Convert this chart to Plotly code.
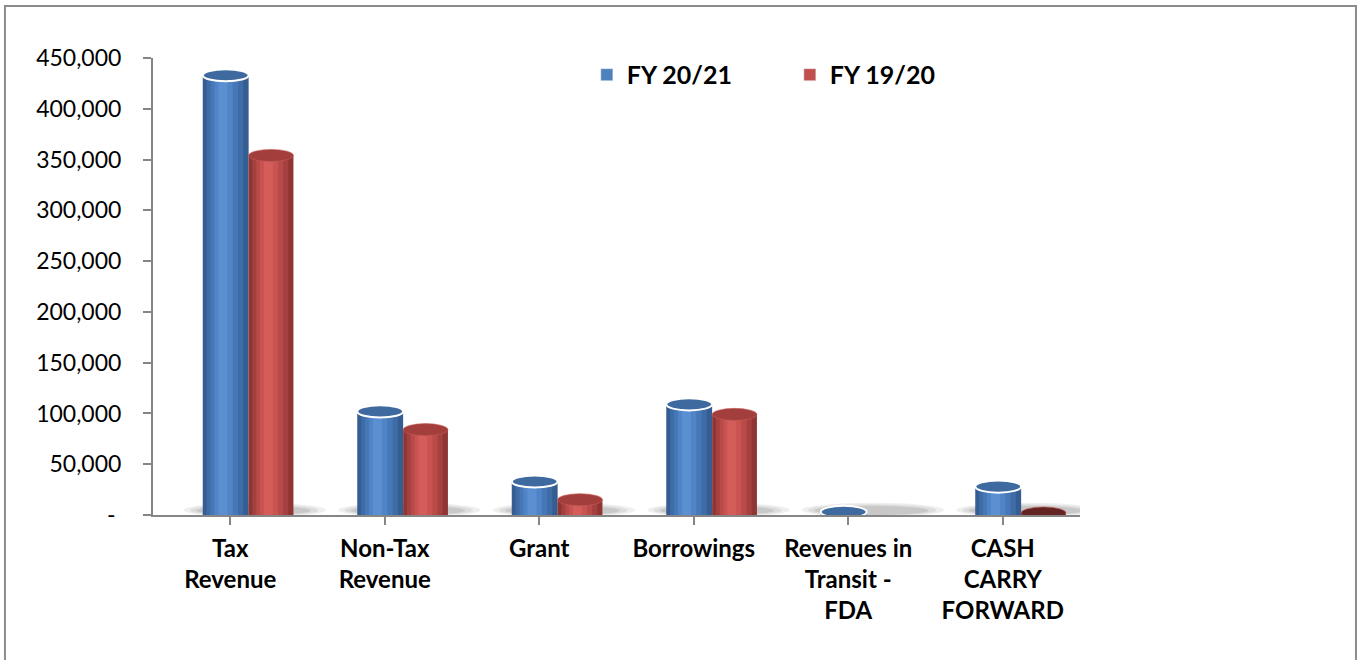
import plotly.graph_objects as go

categories = ["Tax<br>Revenue", "Non-Tax<br>Revenue", "Grant", "Borrowings",
              "Revenues in<br>Transit -<br>FDA", "CASH<br>CARRY<br>FORWARD"]
fy2021 = [433000, 102000, 33000, 109000, 3000, 28000]
fy1920 = [354000, 84000, 15000, 99000, 0, 2000]
y_ticks = [0, 50000, 100000, 150000, 200000, 250000, 300000, 350000, 400000, 450000]
y_ticktext = ["-\u00a0"] + [f"{v:,}" for v in y_ticks[1:]]

FONT = "Lato"
idx = list(range(len(categories)))

series = [
    ("FY 20/21", fy2021, -0.178, 0.297,
     ["#355d91", "#3e6ca6", "#4678b7", "#4f84c6", "#5a8fd2"], "#3e6a9f", "white"),
    ("FY 19/20", fy1920, 0.119, 0.29,
     ["#8f3533", "#a54040", "#b84a48", "#c85351", "#d45c59"], "#a23f3d", "rgba(200,90,88,0.6)"),
]

fig = go.Figure()
shapes = []

# soft floor shadows
for i in idx:
    for k, (a, b, op) in enumerate([(-0.30, 0.62, 0.12), (-0.26, 0.57, 0.15), (-0.22, 0.52, 0.2)]):
        shapes.append(dict(type="circle", xref="x", yref="y", layer="below",
                           x0=i + a, x1=i + b, y0=-2000 + k * 1000, y1=12000 - k * 1500,
                           fillcolor=f"rgba(120,120,120,{op})", line=dict(width=0)))

legend_colors = ["#4f81bd", "#c0504d"]
fracs = [1.0, 0.8, 0.6, 0.4, 0.2]
for s_i, (name, vals, off, w, cols, topfill, topline) in enumerate(series):
    for k, (f, c) in enumerate(zip(fracs, cols)):
        ww = w * f
        oo = off + (w - ww) / 2 - 0.06 * w * (k / 4)
        fig.add_trace(go.Bar(
            x=idx, y=vals, name=name, width=ww, offset=oo,
            marker=dict(color=c, line=dict(width=0)),
            showlegend=False, hoverinfo="skip" if k > 0 else None,
        ))
    # legend proxy
    fig.add_trace(go.Bar(x=[None], y=[None], name=name,
                         marker=dict(color=legend_colors[s_i]), showlegend=True))
    for i, v in zip(idx, vals):
        if v <= 0:
            continue
        fill = topfill
        if s_i == 1 and v < 5000:
            fill = "#632523"
        shapes.append(dict(type="circle", xref="x", yref="y",
                           x0=i + off, x1=i + off + w, y0=v - 6000, y1=v + 6000,
                           fillcolor=fill,
                           line=dict(color=topline, width=2 if s_i == 0 else 1)))

# chart border
shapes.append(dict(type="rect", xref="paper", yref="paper",
                   x0=-0.1597, x1=1.2977, y0=-0.33, y1=1.1138,
                   line=dict(color="#8c8c8c", width=2), fillcolor="rgba(0,0,0,0)"))

fig.update_layout(
    width=1359, height=660,
    margin=dict(l=153, r=279, t=58, b=145),
    paper_bgcolor="white", plot_bgcolor="white",
    barmode="overlay",
    font=dict(family=FONT, color="black", size=22),
    shapes=shapes,
    legend=dict(orientation="h", x=0.468, y=0.963, xanchor="left", yanchor="middle",
                font=dict(family=FONT, size=25, color="black", weight="bold"),
                entrywidth=158, itemwidth=30, bgcolor="rgba(0,0,0,0)"),
    xaxis=dict(
        tickmode="array", tickvals=idx,
        ticktext=[f"<b>{c}</b>" for c in categories],
        range=[-0.5, len(categories) - 0.5],
        showline=True, linecolor="#868686", linewidth=2,
        ticks="outside", ticklen=8, tickcolor="#868686", tickwidth=2,
        showgrid=False, zeroline=False,
        tickfont=dict(family=FONT, size=24, color="black"),
        ticklabelstandoff=3,
        fixedrange=True,
    ),
    yaxis=dict(
        range=[0, 450000], tickmode="array", tickvals=y_ticks, ticktext=y_ticktext,
        showline=True, linecolor="#868686", linewidth=2,
        ticks="outside", ticklen=8, tickcolor="#868686", tickwidth=2,
        showgrid=False, zeroline=False,
        tickfont=dict(family=FONT, size=23, color="black"),
        ticklabelstandoff=17,
    ),
)

fig.write_html("out.html", config={"displayModeBar": False},
               post_script="document.body.style.margin='0';document.body.style.overflow='hidden';")
